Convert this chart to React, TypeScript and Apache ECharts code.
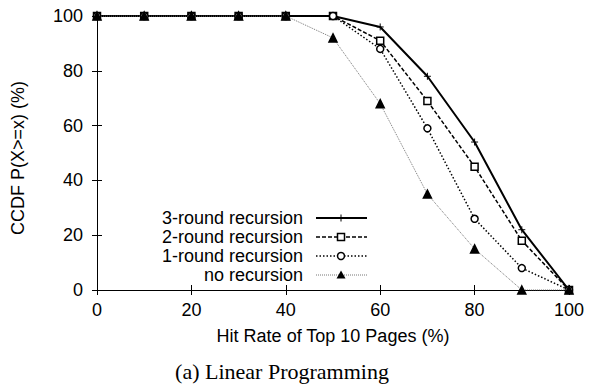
import React, { useEffect, useRef } from "react";
import * as echarts from "echarts";

const xValues = [0, 10, 20, 30, 40, 50, 60, 70, 80, 90, 100];
const round3 = [100, 100, 100, 100, 100, 100, 96, 78, 54, 22, 0];
const round2 = [100, 100, 100, 100, 100, 100, 91, 69, 45, 18, 0];
const round1 = [100, 100, 100, 100, 100, 100, 88, 59, 26, 8, 0];
const noRec = [100, 100, 100, 100, 100, 92, 68, 35, 15, 0, 0];
const seriesNames = ["3-round recursion", "2-round recursion", "1-round recursion", "no recursion"];
const xTitle = "Hit Rate of Top 10 Pages (%)";
const yTitle = "CCDF P(X>=x) (%)";
const caption = "(a) Linear Programming";

const FONT = "'Liberation Sans', Arial, Helvetica, sans-serif";
const PLUS = "path://M0,5L10,5M5,0L5,10";

export default function App() {
  const ref = useRef<HTMLDivElement>(null);
  useEffect(() => {
    const chart = echarts.init(ref.current!, null, { renderer: "svg" });
    const pair = (ys: number[]) => xValues.map((x, i) => [x, ys[i]]);
    const styles = [
      { data: round3, width: 2, type: "solid" as any, color: "#000", symbol: PLUS, size: 7, fill: "#000" },
      { data: round2, width: 1.5, type: [4, 2] as any, color: "#000", symbol: "rect", size: 7, fill: "#fff" },
      { data: round1, width: 1.5, type: [1.5, 2] as any, color: "#000", symbol: "circle", size: 7, fill: "#fff" },
      { data: noRec, width: 1, type: [1, 1] as any, color: "#777", symbol: "triangle", size: 8, fill: "#000" },
    ];
    const legendX0 = 316, legendX1 = 367, legendTextX = 303;
    const rowsY = [218, 237, 256, 275];
    const legendGraphics: any[] = [];
    styles.forEach((s, i) => {
      const y = rowsY[i];
      legendGraphics.push({
        type: "text", x: legendTextX, y,
        style: { text: seriesNames[i], textAlign: "right", textVerticalAlign: "middle", font: `18px ${FONT}`, fill: "#000" },
      });
      legendGraphics.push({
        type: "line", shape: { x1: legendX0, y1: y, x2: legendX1, y2: y },
        style: { stroke: s.color, lineWidth: s.width, lineDash: s.type === "solid" ? null : s.type },
      });
      const cx = 341;
      if (i === 0) {
        legendGraphics.push({ type: "line", shape: { x1: cx, y1: y - 3.5, x2: cx, y2: y + 3.5 }, style: { stroke: "#000", lineWidth: 1 } });
      } else if (i === 1) {
        legendGraphics.push({ type: "rect", shape: { x: cx - 3.5, y: y - 3.5, width: 7, height: 7 }, style: { fill: "#fff", stroke: "#000", lineWidth: 1.5 } });
      } else if (i === 2) {
        legendGraphics.push({ type: "circle", shape: { cx, cy: y, r: 3.5 }, style: { fill: "#fff", stroke: "#000", lineWidth: 1.5 } });
      } else {
        legendGraphics.push({ type: "polygon", shape: { points: [[cx, y - 4.5], [cx - 4.5, y + 3.5], [cx + 4.5, y + 3.5]] }, style: { fill: "#000" } });
      }
    });
    chart.setOption({
      animation: false,
      backgroundColor: "#fff",
      grid: { left: 97, right: 20, top: 16, bottom: 98, show: false },
      xAxis: [
        {
          type: "value", min: 0, max: 100, interval: 20,
          name: xTitle, nameLocation: "middle", nameGap: 37,
          nameTextStyle: { fontFamily: FONT, fontSize: 18, color: "#000" },
          axisLine: { lineStyle: { color: "#000", width: 1 } },
          axisTick: { inside: true, length: 5, lineStyle: { color: "#000" } },
          axisLabel: { fontFamily: FONT, fontSize: 18, color: "#000", margin: 11 },
          splitLine: { show: false },
        },
        {
          type: "value", min: 0, max: 100, interval: 20, position: "top",
          axisLine: { lineStyle: { color: "#000", width: 1 } },
          axisTick: { inside: true, length: 5, lineStyle: { color: "#000" } },
          axisLabel: { show: false }, splitLine: { show: false },
        },
      ],
      yAxis: [
        {
          type: "value", min: 0, max: 100, interval: 20,
          axisLine: { show: true, lineStyle: { color: "#000", width: 1 } },
          axisTick: { show: true, inside: true, length: 5, lineStyle: { color: "#000" } },
          axisLabel: { fontFamily: FONT, fontSize: 18, color: "#000", margin: 14 },
          splitLine: { show: false },
        },
        {
          type: "value", min: 0, max: 100, interval: 20, position: "right",
          axisLine: { show: true, lineStyle: { color: "#000", width: 1 } },
          axisTick: { show: true, inside: true, length: 5, lineStyle: { color: "#000" } },
          axisLabel: { show: false }, splitLine: { show: false },
        },
      ],
      series: styles.map((s, i) => ({
        name: seriesNames[i],
        type: "line",
        data: pair(s.data),
        symbol: s.symbol,
        symbolSize: s.size,
        showAllSymbol: true,
        lineStyle: { color: s.color, width: s.width, type: s.type },
        itemStyle: { color: s.fill, borderColor: "#000", borderWidth: i === 0 ? 1 : 1.5 },
        z: 2 + i,
      })),
      graphic: [
        ...legendGraphics,
        {
          type: "text", x: 18, y: 158, rotation: Math.PI / 2,
          style: { text: yTitle, textAlign: "center", textVerticalAlign: "middle", font: `18px ${FONT}`, fill: "#000" },
        },
        {
          type: "text", x: 282, y: 371,
          style: { text: caption, textAlign: "center", textVerticalAlign: "middle", font: "22px 'Liberation Serif', 'Times New Roman', serif", fill: "#000" },
        },
      ],
    });
    return () => chart.dispose();
  }, []);
  return <div ref={ref} style={{ width: 589, height: 388, position: "absolute", left: 0, top: 0 }} />;
}
